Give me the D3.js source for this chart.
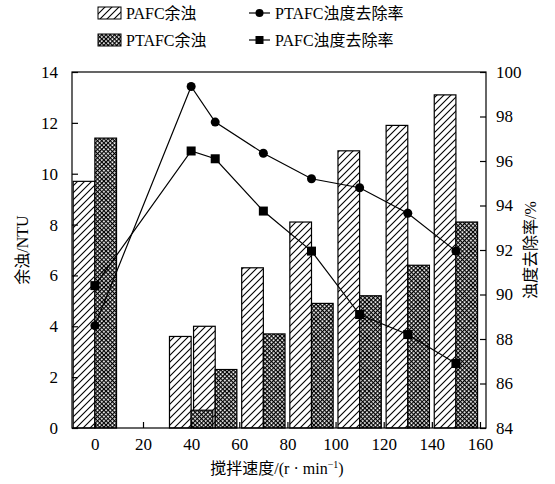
<!DOCTYPE html>
<html>
<head>
<meta charset="utf-8">
<script src="https://cdn.jsdelivr.net/npm/d3@7"></script>
<style>
  body { margin: 0; background: #fff; }
  text { font-family: "Liberation Serif", "Noto Sans CJK SC", serif; fill: #000; }
</style>
</head>
<body>
<div id="chart"></div>
<script>
// speeds (r/min)
const speeds = [0, 40, 50, 70, 90, 110, 130, 150];
// residual turbidity, NTU
const pafcResidual = [9.7, 3.6, 4.0, 6.3, 8.1, 10.9, 11.9, 13.1];
const ptafcResidual = [11.4, 0.7, 2.3, 3.7, 4.9, 5.2, 6.4, 8.1];
// turbidity removal rate, %
const ptafcRemoval = [88.6, 99.35, 97.75, 96.35, 95.2, 94.8, 93.65, 91.95];
const pafcRemoval = [90.4, 96.45, 96.1, 93.75, 91.95, 89.1, 88.2, 86.9];

const xTicks = [0, 20, 40, 60, 80, 100, 120, 140, 160];
const leftTicks = [0, 2, 4, 6, 8, 10, 12, 14];
const rightTicks = [84, 86, 88, 90, 92, 94, 96, 98, 100];

const width = 555, height = 484;
const margin = {top: 72, right: 69, bottom: 56, left: 72};

const svg = d3.select("#chart").append("svg")
  .attr("width", width).attr("height", height);

// patterns
const defs = svg.append("defs");
const hatch = defs.append("pattern")
  .attr("id", "hatch").attr("patternUnits", "userSpaceOnUse")
  .attr("width", 7).attr("height", 7);
hatch.append("rect").attr("width", 7).attr("height", 7).attr("fill", "#fff");
hatch.append("path").attr("d", "M-1,8L8,-1M-2,2L2,-2M5,9L9,5")
  .attr("stroke", "#000").attr("stroke-width", 1.1);

const cross = defs.append("pattern")
  .attr("id", "cross").attr("patternUnits", "userSpaceOnUse")
  .attr("width", 3).attr("height", 3)
  .attr("patternTransform", "rotate(45)");
cross.append("rect").attr("width", 3).attr("height", 3).attr("fill", "#fff");
cross.append("path").attr("d", "M0.5,0V3M0,0.5H3")
  .attr("stroke", "#000").attr("stroke-width", 1.3);

const x = d3.scaleLinear().domain([-9.5, 162.5])
  .range([margin.left, width - margin.right]);
const y = d3.scaleLinear().domain([0, 14])
  .range([height - margin.bottom, margin.top]);
const y2 = d3.scaleLinear().domain([84, 100])
  .range([height - margin.bottom, margin.top]);

const barW = 9; // in x units

// bars
svg.append("g").selectAll("rect").data(pafcResidual).join("rect")
  .attr("x", (d, i) => x(speeds[i] - barW))
  .attr("width", x(barW) - x(0))
  .attr("y", d => y(d))
  .attr("height", d => y(0) - y(d))
  .attr("fill", "url(#hatch)").attr("stroke", "#000").attr("stroke-width", 1.2);
svg.append("g").selectAll("rect").data(ptafcResidual).join("rect")
  .attr("x", (d, i) => x(speeds[i]))
  .attr("width", x(barW) - x(0))
  .attr("y", d => y(d))
  .attr("height", d => y(0) - y(d))
  .attr("fill", "url(#cross)").attr("stroke", "#000").attr("stroke-width", 1.2);

// lines on top
const line = d3.line().x((d, i) => x(speeds[i])).y(d => y2(d));
svg.append("path").datum(ptafcRemoval).attr("d", line)
  .attr("fill", "none").attr("stroke", "#000").attr("stroke-width", 1.2);
svg.append("path").datum(pafcRemoval).attr("d", line)
  .attr("fill", "none").attr("stroke", "#000").attr("stroke-width", 1.2);
svg.append("g").selectAll("circle").data(ptafcRemoval).join("circle")
  .attr("cx", (d, i) => x(speeds[i])).attr("cy", d => y2(d))
  .attr("r", 4.5).attr("fill", "#000");
svg.append("g").selectAll("rect").data(pafcRemoval).join("rect")
  .attr("x", (d, i) => x(speeds[i]) - 4.5).attr("y", d => y2(d) - 4.5)
  .attr("width", 9).attr("height", 9).attr("fill", "#000");

// frame
svg.append("rect")
  .attr("x", margin.left).attr("y", margin.top)
  .attr("width", width - margin.left - margin.right)
  .attr("height", height - margin.top - margin.bottom)
  .attr("fill", "none").attr("stroke", "#000").attr("stroke-width", 1.2);

// axes
const fs = "17px";
const bottomAx = svg.append("g")
  .attr("transform", `translate(0,${height - margin.bottom})`)
  .call(d3.axisBottom(x).tickValues(xTicks).tickSizeInner(-6).tickSizeOuter(0).tickPadding(10));
const leftAx = svg.append("g")
  .attr("transform", `translate(${margin.left},0)`)
  .call(d3.axisLeft(y).tickValues(leftTicks).tickSizeInner(-6).tickSizeOuter(0).tickPadding(14));
const rightAx = svg.append("g")
  .attr("transform", `translate(${width - margin.right},0)`)
  .call(d3.axisRight(y2).tickValues(rightTicks).tickSizeInner(-6).tickSizeOuter(0).tickPadding(10));
[bottomAx, leftAx, rightAx].forEach(g => {
  g.select(".domain").remove();
  g.selectAll("line").attr("stroke-width", 1.2);
  g.selectAll("text").attr("font-family", "Liberation Serif").attr("font-size", fs);
});

// axis titles
svg.append("text")
  .attr("transform", `translate(28,${(margin.top + height - margin.bottom) / 2}) rotate(-90)`)
  .attr("text-anchor", "middle").attr("font-size", "16px")
  .text("余浊/NTU");
svg.append("text")
  .attr("transform", `translate(536,${(margin.top + height - margin.bottom) / 2}) rotate(-90)`)
  .attr("text-anchor", "middle").attr("font-size", "16px")
  .text("浊度去除率/%");
const xt = svg.append("text")
  .attr("x", 277).attr("y", 474)
  .attr("text-anchor", "middle").attr("font-size", "16px");
xt.append("tspan").text("搅拌速度/(r · min");
xt.append("tspan").attr("dy", -6).attr("font-size", "10px").text("−1");
xt.append("tspan").attr("dy", 6).text(")");

// legend
const leg = svg.append("g");
const legBars = [["url(#hatch)", "PAFC余浊"], ["url(#cross)", "PTAFC余浊"]];
legBars.forEach(([fill, label], i) => {
  const ly = 7 + i * 27;
  leg.append("rect").attr("x", 98).attr("y", ly).attr("width", 23).attr("height", 12)
    .attr("fill", fill).attr("stroke", "#000").attr("stroke-width", 1);
  leg.append("text").attr("x", 126).attr("y", ly + 12).attr("font-size", "16px").text(label);
});
const legLines = [["circle", "PTAFC浊度去除率"], ["square", "PAFC浊度去除率"]];
legLines.forEach(([shape, label], i) => {
  const ly = 13 + i * 27;
  leg.append("line").attr("x1", 249).attr("x2", 270).attr("y1", ly).attr("y2", ly)
    .attr("stroke", "#000").attr("stroke-width", 1.2);
  if (shape === "circle") {
    leg.append("circle").attr("cx", 259.5).attr("cy", ly).attr("r", 4).attr("fill", "#000");
  } else {
    leg.append("rect").attr("x", 255.5).attr("y", ly - 4).attr("width", 8).attr("height", 8).attr("fill", "#000");
  }
  leg.append("text").attr("x", 275).attr("y", ly + 6).attr("font-size", "16px").text(label);
});
</script>
</body>
</html>
